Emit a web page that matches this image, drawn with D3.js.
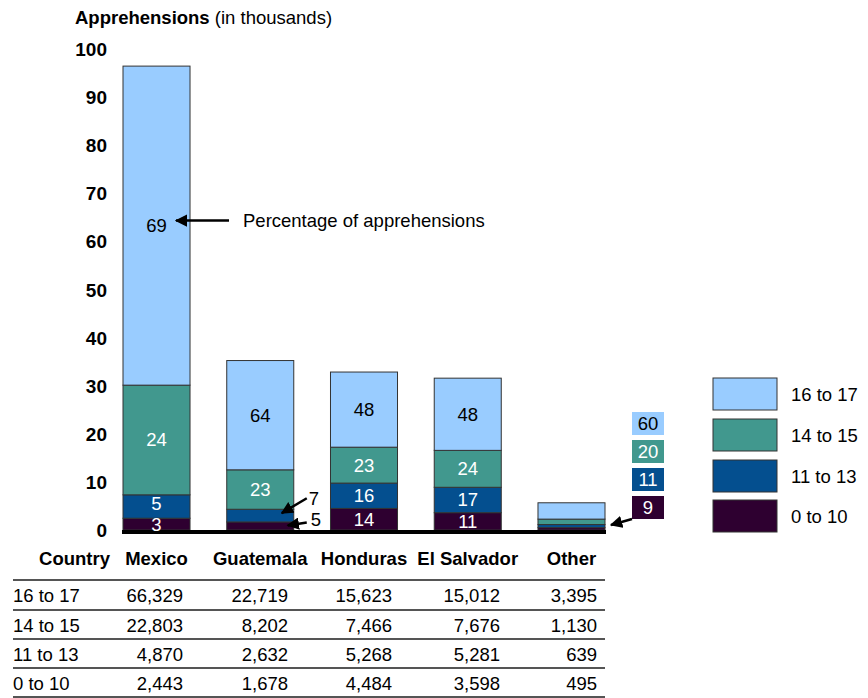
<!DOCTYPE html>
<html><head><meta charset="utf-8">
<script src="https://cdn.jsdelivr.net/npm/d3@7"></script>
<style>
body{margin:0;background:#fff;}
svg text{font-family:"Liberation Sans",Arial,sans-serif;}
</style></head>
<body>
<svg id="c" width="868" height="698"></svg>
<script>
const countries = ["Mexico","Guatemala","Honduras","El Salvador","Other"];
const ageGroups = ["0 to 10","11 to 13","14 to 15","16 to 17"];
const age0to10  = [2443, 1678, 4484, 3598, 495];
const age11to13 = [4870, 2632, 5268, 5281, 639];
const age14to15 = [22803, 8202, 7466, 7676, 1130];
const age16to17 = [66329, 22719, 15623, 15012, 3395];
const pct0to10  = [3, 5, 14, 11, 9];
const pct11to13 = [5, 7, 16, 17, 11];
const pct14to15 = [24, 23, 23, 24, 20];
const pct16to17 = [69, 64, 48, 48, 60];
const yTicks = [0,10,20,30,40,50,60,70,80,90,100];
const colors = ["#2e0030","#044f8f","#41988e","#99ccff"];
const textColors = ["#fff","#fff","#fff","#000"];
const FS = 18.5;

const series = [age0to10, age11to13, age14to15, age16to17];
const pcts = [pct0to10, pct11to13, pct14to15, pct16to17];
const rows = countries.map((c,i)=>{const o={country:c}; ageGroups.forEach((g,k)=>o[g]=series[k][i]/1000); return o;});
const stacked = d3.stack().keys(ageGroups)(rows);

const svg = d3.select("#c");
const x = d3.scaleBand().domain(countries).range([123,605]).paddingInner(0.354).paddingOuter(0);
const y = d3.scaleLinear().domain([0,100]).range([530,49]);

// title
const t = svg.append("text").attr("x",75).attr("y",24).attr("font-size",FS);
t.append("tspan").attr("font-weight","bold").text("Apprehensions");
t.append("tspan").text(" (in thousands)");

// y tick labels
svg.append("g").selectAll("text").data(yTicks).join("text")
  .attr("x",107).attr("y",d=>y(d)+7).attr("text-anchor","end")
  .attr("font-size",19).attr("font-weight","bold").text(d=>d);

// bars
const layers = svg.append("g").selectAll("g").data(stacked).join("g")
  .attr("fill",(d,i)=>colors[i]);
layers.selectAll("rect").data(d=>d).join("rect")
  .attr("x",d=>x(d.data.country)).attr("width",x.bandwidth())
  .attr("y",d=>y(d[1])).attr("height",d=>y(d[0])-y(d[1]))
  .attr("stroke","#333").attr("stroke-width",1);

// baseline
svg.append("rect").attr("x",x("Mexico")-1).attr("y",y(0)).attr("width",x("Other")+x.bandwidth()-x("Mexico")+2).attr("height",4).attr("fill","#000");

// arrow marker
const defs = svg.append("defs");
defs.append("marker").attr("id","ah").attr("viewBox","0 0 10 10").attr("refX",9).attr("refY",5)
  .attr("markerWidth",5).attr("markerHeight",5).attr("orient","auto-start-reverse")
  .append("path").attr("d","M0,0 L10,5 L0,10 z").attr("fill","#000");

// in-bar labels
stacked.forEach((layer,k)=>{
  layer.forEach((d,i)=>{
    const c = countries[i];
    if (c==="Other") return;
    if (c==="Guatemala" && k<2) return;
    let dy = 6.5;
    if (c==="Mexico" && k===1) dy = 3;
    if (c==="Mexico" && k===0) dy = 7;
    svg.append("text").attr("x",x(c)+x.bandwidth()/2).attr("y",(y(d[0])+y(d[1]))/2+dy)
      .attr("text-anchor","middle").attr("font-size",FS).attr("fill",textColors[k]).text(pcts[k][i]);
  });
});

// Guatemala small segment labels with arrows
const gi = countries.indexOf("Guatemala");
const gx = x("Guatemala")+x.bandwidth();
const g11 = stacked[1][gi], g0 = stacked[0][gi];
svg.append("line").attr("x1",gx+13).attr("y1",y(g11[1])-11).attr("x2",gx-12).attr("y2",(y(g11[0])+y(g11[1]))/2-2.5)
  .attr("stroke","#000").attr("stroke-width",2.5).attr("marker-end","url(#ah)");
svg.append("text").attr("x",gx+15).attr("y",y(g11[1])-4).attr("font-size",FS).text(pcts[1][gi]);
svg.append("line").attr("x1",gx+13).attr("y1",y(g0[1])+0.5).attr("x2",gx-6).attr("y2",y(g0[1])+3.5)
  .attr("stroke","#000").attr("stroke-width",2.5).attr("marker-end","url(#ah)");
svg.append("text").attr("x",gx+17).attr("y",y(g0[1])+4).attr("font-size",FS).text(pcts[0][gi]);

// Mexico annotation
const mi = countries.indexOf("Mexico");
const m16 = stacked[3][mi];
const my = (y(m16[0])+y(m16[1]))/2 - 5;
svg.append("line").attr("x1",x("Mexico")+x.bandwidth()+39).attr("y1",my).attr("x2",x("Mexico")+x.bandwidth()-14).attr("y2",my)
  .attr("stroke","#000").attr("stroke-width",2.5).attr("marker-end","url(#ah)");
svg.append("text").attr("x",243).attr("y",my+6.5).attr("font-size",FS).text("Percentage of apprehensions");

// Other: stacked label boxes
const oi = countries.indexOf("Other");
const boxX = 632, boxW = 32, boxH = 23;
[3,2,1,0].forEach((k,j)=>{
  const by = 412 + j*28;
  svg.append("rect").attr("x",boxX).attr("y",by).attr("width",boxW).attr("height",boxH).attr("fill",colors[k]);
  svg.append("text").attr("x",boxX+boxW/2).attr("y",by+boxH/2+6.5).attr("text-anchor","middle")
    .attr("font-size",FS).attr("fill",textColors[k]).text(pcts[k][oi]);
});
svg.append("line").attr("x1",boxX).attr("y1",519).attr("x2",x("Other")+x.bandwidth()+6).attr("y2",525)
  .attr("stroke","#000").attr("stroke-width",2.5).attr("marker-end","url(#ah)");

// legend
const legendOrder = [3,2,1,0];
legendOrder.forEach((k,j)=>{
  const ly = [378,419,460,500][j];
  svg.append("rect").attr("x",713).attr("y",ly).attr("width",64).attr("height",32)
    .attr("fill",colors[k]).attr("stroke","#333").attr("stroke-width",1);
  svg.append("text").attr("x",791).attr("y",ly+23).attr("font-size",FS).text(ageGroups[k]);
});

// table
const header = svg.append("g").attr("font-weight","bold").attr("font-size",FS);
header.append("text").attr("x",110).attr("y",565).attr("text-anchor","end").text("Country");
header.selectAll("text.c").data(countries).join("text").attr("class","c")
  .attr("x",d=>x(d)+x.bandwidth()/2).attr("y",565).attr("text-anchor","middle").text(d=>d);
const lineYs = [580,610,639,668,697];
svg.append("g").selectAll("line").data(lineYs).join("line")
  .attr("x1",13).attr("x2",605).attr("y1",d=>d).attr("y2",d=>d).attr("stroke","#555").attr("stroke-width",2);
const colRight = [183,288,392,500,597];
const fmt = d3.format(",");
legendOrder.forEach((k,j)=>{
  const ry = lineYs[j] + 22;
  svg.append("text").attr("x",13).attr("y",ry).attr("font-size",FS).text(ageGroups[k]);
  series[k].forEach((v,i)=>{
    svg.append("text").attr("x",colRight[i]).attr("y",ry).attr("text-anchor","end").attr("font-size",FS).text(fmt(v));
  });
});
</script>
</body></html>
